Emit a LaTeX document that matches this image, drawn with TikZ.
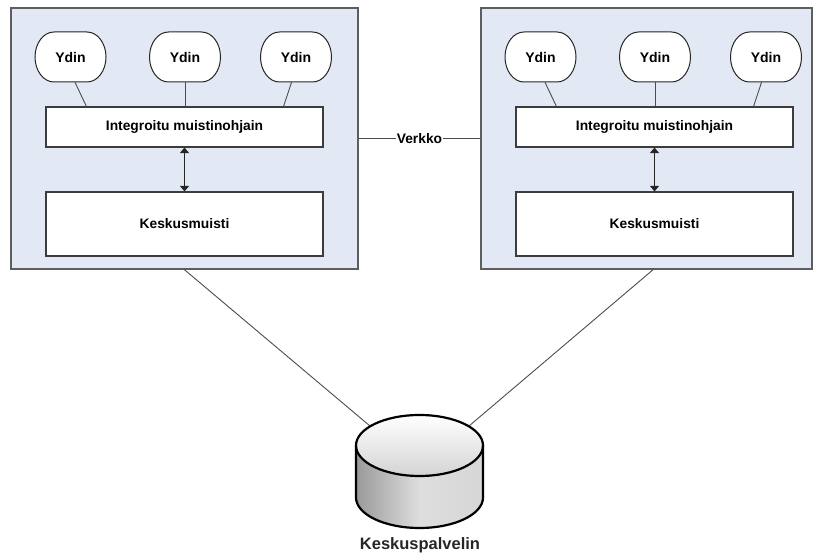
\documentclass[tikz,border=0pt]{standalone}
\usepackage{fontspec}
\setmainfont{Liberation Sans}
\usetikzlibrary{arrows.meta}
\definecolor{boxfill}{HTML}{E3E9F4}
\definecolor{boxline}{HTML}{5E5E5E}
\definecolor{inline}{HTML}{3C3C3C}
\tikzset{
  outerbox/.style={draw=boxline, line width=1.5pt, fill=boxfill, rectangle, inner sep=0pt},
  innerbox/.style={draw=inline, line width=1.1pt, fill=white, rectangle, inner sep=0pt, minimum width=277pt,
    font=\fontsize{13.8}{16}\selectfont\bfseries},
  coreline/.style={draw=black!85, line width=1pt, fill=white},
  core/.style={rectangle, minimum width=71pt, minimum height=50pt,
    inner sep=0pt, font=\fontsize{14}{16}\selectfont\bfseries},
  conn/.style={draw=black!70, line width=0.9pt},
  biarrow/.style={draw=black!85, line width=1pt, {Triangle[length=5.5pt,width=9pt]}-{Triangle[length=5.5pt,width=9pt]}},
  cyl/.style={line width=2.2pt, black},
}
\begin{document}
\begin{tikzpicture}[x=1pt,y=-1pt]
\useasboundingbox (0,0) rectangle (815,553);
% outer boxes
\node[outerbox, minimum width=347pt, minimum height=261pt] (boxL) at (184.5,138.5) {};
\node[outerbox, minimum width=331pt, minimum height=261pt] (boxR) at (646.5,138.5) {};
% network
\draw[conn] (boxL.east) -- node[fill=white, inner sep=1pt, font=\fontsize{13.8}{16}\selectfont\bfseries] (verkko) {Verkko} (boxR.west);
% core outlines
\foreach \cx in {70.5,185,296,540.5,655,766}{
  \draw[coreline] (\cx-16.5,32) -- (\cx+16.5,32)
    arc[start angle=90, end angle=-90, x radius=19pt, y radius=25pt]
    -- (\cx-16.5,82)
    arc[start angle=270, end angle=90, x radius=19pt, y radius=25pt] -- cycle;
}
% left machine
\node[core] (yL1) at (70.5,57) {Ydin};
\node[core] (yL2) at (185,57) {Ydin};
\node[core] (yL3) at (296,57) {Ydin};
\node[innerbox, minimum height=40pt] (intL) at (184.5,127) {Integroitu muistinohjain};
\node[innerbox, minimum height=64pt] (kesL) at (184.5,224) {Keskusmuisti};
\draw[conn] (yL1.280) -- ([xshift=41pt]intL.north west);
\draw[conn] (yL2.south) -- (yL2.south |- intL.north);
\draw[conn] (yL3.260) -- ([xshift=-40pt]intL.north east);
\draw[biarrow] (intL.south) -- (kesL.north);
% right machine
\node[core] (yR1) at (540.5,57) {Ydin};
\node[core] (yR2) at (655,57) {Ydin};
\node[core] (yR3) at (766,57) {Ydin};
\node[innerbox, minimum height=40pt] (intR) at (654.5,127) {Integroitu muistinohjain};
\node[innerbox, minimum height=64pt] (kesR) at (654.5,224) {Keskusmuisti};
\draw[conn] (yR1.280) -- ([xshift=41pt]intR.north west);
\draw[conn] (yR2.south) -- (yR2.south |- intR.north);
\draw[conn] (yR3.260) -- ([xshift=-40pt]intR.north east);
\draw[biarrow] (intR.south) -- (kesR.north);
% server cylinder
\coordinate (dbL) at (370,426);
\coordinate (dbR) at (469,426);
\draw[conn] (boxL.south) -- (dbL);
\draw[conn] ([xshift=6.5pt]boxR.south) -- (dbR);
\path[left color=black!40, right color=black!16, middle color=black!13]
  (356,445.5) -- (356,497.5) arc[start angle=180, end angle=360, x radius=63.5pt, y radius=30.5pt]
  -- (483,445.5) arc[start angle=360, end angle=180, x radius=63.5pt, y radius=30.5pt] -- cycle;
\path[top color=white, bottom color=black!17] (419.5,445.5) ellipse[x radius=63.5pt, y radius=30.5pt];
\draw[cyl]
  (356,445.5) -- (356,497.5) arc[start angle=180, end angle=360, x radius=63.5pt, y radius=30.5pt]
  -- (483,445.5);
\draw[cyl] (419.5,445.5) ellipse[x radius=63.5pt, y radius=30.5pt];
\node[font=\fontsize{16.5}{18}\selectfont\bfseries, text=black!85] (dblabel) at (420,545) {Keskuspalvelin};
\end{tikzpicture}
\end{document}
